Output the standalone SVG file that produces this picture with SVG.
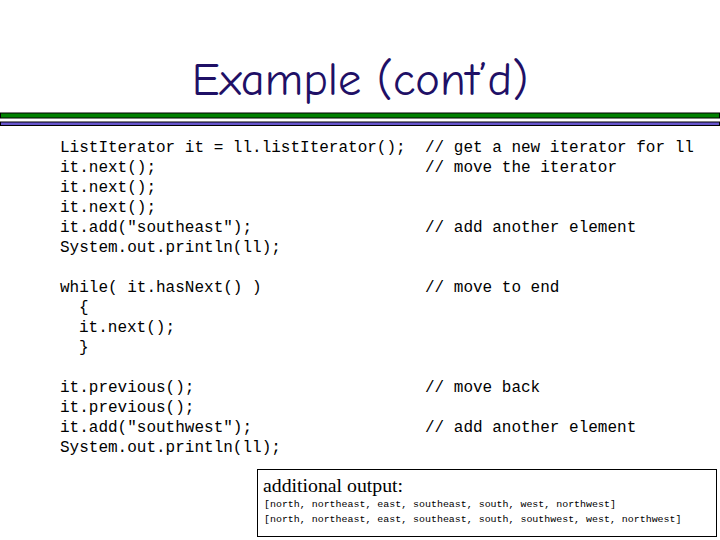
<svg xmlns="http://www.w3.org/2000/svg" width="720" height="540" viewBox="0 0 720 540">
<style>
.code{font-family:"Liberation Mono","DejaVu Sans Mono",monospace;font-size:16px;fill:#000}
.out{font-family:"Liberation Mono","DejaVu Sans Mono",monospace;font-size:9.95px;fill:#000}
</style>
<rect width="720" height="540" fill="#fff"/>
<g id="title">
<text x="360" y="95" text-anchor="middle" font-family="'Comic Sans MS','Comic Neue','DejaVu Sans',sans-serif" font-size="46.5" fill="#1f1066">Example (cont’d)</text>
</g>
<g id="rules">
<rect x="0.5" y="113" width="719" height="5" fill="#008000" stroke="#000" stroke-width="1"/>
<rect x="0.5" y="122" width="719" height="3.5" fill="#6655cc" stroke="#000" stroke-width="1"/>
</g>
<g id="code" class="code">
<text x="60" y="152" class="code">ListIterator it = ll.listIterator();</text>
<text x="60" y="172" class="code">it.next();</text>
<text x="60" y="192" class="code">it.next();</text>
<text x="60" y="212" class="code">it.next();</text>
<text x="60" y="232" class="code">it.add("southeast");</text>
<text x="60" y="252" class="code">System.out.println(ll);</text>
<text x="60" y="292" class="code">while( it.hasNext() )</text>
<text x="79" y="312" class="code">{</text>
<text x="79" y="332" class="code">it.next();</text>
<text x="79" y="352" class="code">}</text>
<text x="60" y="392" class="code">it.previous();</text>
<text x="60" y="412" class="code">it.previous();</text>
<text x="60" y="432" class="code">it.add("southwest");</text>
<text x="60" y="452" class="code">System.out.println(ll);</text>
</g>
<g id="comments">
<text x="425" y="152" class="code">// get a new iterator for ll</text>
<text x="425" y="172" class="code">// move the iterator</text>
<text x="425" y="232" class="code">// add another element</text>
<text x="425" y="292" class="code">// move to end</text>
<text x="425" y="392" class="code">// move back</text>
<text x="425" y="432" class="code">// add another element</text>
</g>
<g id="output-box">
<rect x="257.5" y="469.5" width="459" height="67" fill="#fff" stroke="#000" stroke-width="1"/>
<text x="263" y="492" font-family="'Liberation Serif','Times New Roman',serif" font-size="19.8" fill="#000">additional output:</text>
<text x="264" y="507" class="out">[north, northeast, east, southeast, south, west, northwest]</text>
<text x="264" y="522" class="out">[north, northeast, east, southeast, south, southwest, west, northwest]</text>
</g>
</svg>
